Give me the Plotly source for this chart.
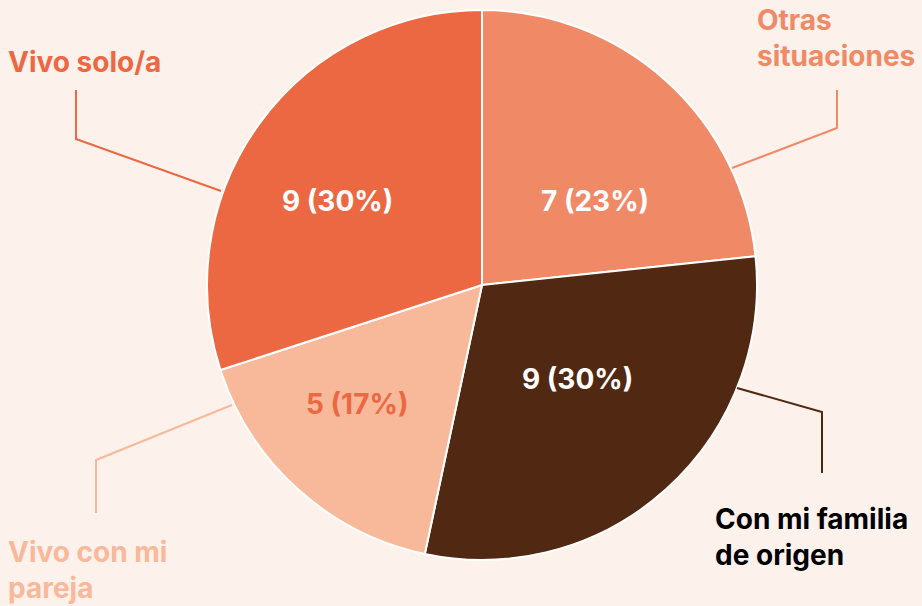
import plotly.graph_objects as go

W, H = 922, 606
categories = ["Otras situaciones", "Con mi familia de origen", "Vivo con mi pareja", "Vivo solo/a"]
label_text = ["Otras<br>situaciones", "Con mi familia<br>de origen", "Vivo con mi<br>pareja", "Vivo solo/a"]
values = [7, 9, 5, 9]
colors = ["#F08A66", "#512812", "#F8B99B", "#EC6842"]
inside_text_colors = ["#FFFFFF", "#FFFFFF", "#EC6842", "#FFFFFF"]
label_colors = ["#F08A66", "#000000", "#F8B99B", "#EC6842"]

BG = "#FDF1EB"
FONT = "Inter, Roboto, sans-serif"
FS = 28

def px(x, y):
    return x / W, 1 - y / H

cx, cy, r = 482, 285, 275
x0, y1 = px(cx - r, cy - r)
x1, y0 = px(cx + r, cy + r)

total = sum(values)
fig = go.Figure(go.Pie(
    labels=categories, values=values, sort=False, direction="clockwise", rotation=0,
    marker=dict(colors=colors, line=dict(color="white", width=2)),
    textinfo="none",
    domain=dict(x=[x0, x1], y=[y0, y1]), showlegend=False, hoverinfo="label+value+percent",
))

# pixel positions of the value labels inside slices, leader lines and outer labels (layout only)
inside_pos = [(595, 201), (577, 379), (357, 404), (337, 201)]
leaders = [
    [(732, 168), (837, 128), (837, 90)],
    [(737, 388), (822, 412), (822, 473)],
    [(232, 405), (96, 460), (96, 513)],
    [(221, 191), (76, 139), (76, 90)],
]
label_pos = [(757, 38), (715, 537), (8, 570), (8, 62)]

shapes = []
for pts, col in zip(leaders, colors):
    path = "M " + " L ".join(f"{px(x, y)[0]},{px(x, y)[1]}" for x, y in pts)
    shapes.append(dict(type="path", path=path, xref="paper", yref="paper",
                       line=dict(color=col, width=2)))

annotations = []
for (x, y), v, col in zip(inside_pos, values, inside_text_colors):
    ax, ay = px(x, y)
    annotations.append(dict(x=ax, y=ay, xref="paper", yref="paper",
                            text=f"{v} ({round(100 * v / total)}%)",
                            showarrow=False, xanchor="center", yanchor="middle",
                            font=dict(family=FONT, size=FS, color=col, weight="bold")))
for (x, y), txt, col in zip(label_pos, label_text, label_colors):
    ax, ay = px(x, y)
    annotations.append(dict(x=ax, y=ay, xref="paper", yref="paper", text=txt,
                            showarrow=False, xanchor="left", yanchor="middle", align="left",
                            xshift=-2,
                            font=dict(family=FONT, size=FS, color=col, weight="bold")))

fig.update_layout(width=W, height=H, margin=dict(l=0, r=0, t=0, b=0),
                  paper_bgcolor=BG, plot_bgcolor=BG, shapes=shapes, annotations=annotations)
fig.write_html("out.html", config={"displayModeBar": False},
               post_script="document.body.style.margin='0';document.body.style.background='%s';" % BG)
